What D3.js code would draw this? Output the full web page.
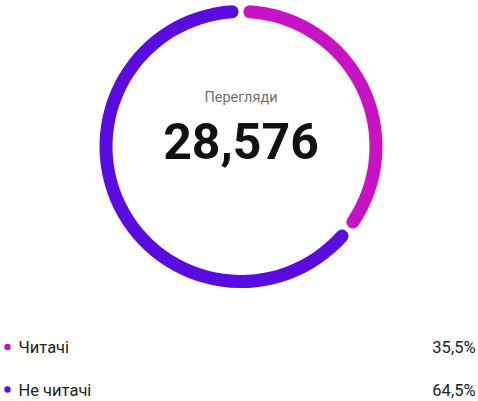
<!DOCTYPE html>
<html><head><meta charset="utf-8">
<script src="https://cdn.jsdelivr.net/npm/d3@7"></script>
<style>html,body{margin:0;padding:0;background:#fff;}svg{display:block;font-family:Roboto,"Noto Sans",sans-serif;}</style>
</head><body>
<svg id="c" width="478" height="401"></svg>
<script>
const categories = ["Читачі", "Не читачі"];
const values = [35.5, 64.5];
const valueLabels = ["35,5%", "64,5%"];
const colors = ["#C812C4", "#5A0BDF"];
const title = "Перегляди";
const total = "28,576";

const svg = d3.select("#c");
const cx = 241, cy = 146.5, rMid = 135, thick = 13;
const pie = d3.pie().sort(null).value(d => d)(values);
const arc = d3.arc()
  .innerRadius(rMid - thick/2).outerRadius(rMid + thick/2)
  .cornerRadius(thick/2).padAngle(0.035).padRadius(rMid);
const g = svg.append("g").attr("transform", `translate(${cx},${cy})`);
g.selectAll("path").data(pie).join("path")
  .attr("d", arc).attr("fill", (d,i) => colors[i]);

g.append("text").attr("text-anchor","middle").attr("y", -45)
  .attr("font-size", 14.5).attr("fill", "#707070").text(title);
g.append("text").attr("text-anchor","middle").attr("y", 12)
  .attr("font-size", 50).attr("font-weight", 700).attr("fill", "#111").text(total);

const rowY = d3.scalePoint().domain(categories).range([353, 395.5]);
const lg = svg.append("g").selectAll("g").data(categories).join("g")
  .attr("transform", d => `translate(0,${rowY(d)})`);
lg.append("circle").attr("cx", 7.5).attr("cy", -6).attr("r", 3.2)
  .attr("fill", (d,i) => colors[i]);
lg.append("text").attr("x", 18.5).attr("font-size", 16.5).attr("fill", "#222").text(d => d);
lg.append("text").attr("x", 475.5).attr("text-anchor","end").attr("font-size", 16.5).attr("fill", "#222")
  .text((d,i) => valueLabels[i]);
</script>
</body></html>
